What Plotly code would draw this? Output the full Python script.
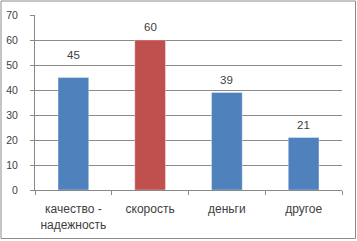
import plotly.graph_objects as go

categories = ["качество -<br>надежность", "скорость", "деньги", "другое"]
values = [45, 60, 39, 21]
colors = ["#4F81BD", "#C0504D", "#4F81BD", "#4F81BD"]
label_shift = [23, 13, 13, 13]
y_ticks = [0, 10, 20, 30, 40, 50, 60, 70]

fam = "Liberation Sans, Arial, sans-serif"
font = dict(family=fam, size=11.5, color="#404040")
yfont = dict(family=fam, size=10.5, color="#404040")
xfont = dict(family=fam, size=12, color="#404040")

fig = go.Figure()
fig.add_trace(go.Bar(
    x=categories, y=values,
    marker=dict(color=colors, line=dict(color="rgba(255,255,255,0.35)", width=1)),
    width=0.4,
    hoverinfo="skip",
))
for c, v, s in zip(categories, values, label_shift):
    fig.add_annotation(x=c, y=v, text=str(v), showarrow=False, yshift=s,
                       yanchor="middle", font=font)

L, R, T, B = 35, 15, 15, 51
W, H = 357, 241
pw, ph = W - L - R, H - T - B

def px(x):
    return (x - L) / pw

def py(y):
    return (H - B - y) / ph

fig.add_shape(type="rect", xref="paper", yref="paper",
              x0=px(1), x1=px(355.5), y0=py(238.5), y1=py(1),
              line=dict(color="#8c8c8c", width=1), layer="below")

fig.update_layout(
    width=W, height=H,
    margin=dict(l=L, r=R, t=T, b=B, pad=0, autoexpand=False),
    paper_bgcolor="white", plot_bgcolor="white",
    font=font, showlegend=False,
    xaxis=dict(tickson="boundaries", ticks="outside", ticklen=4, tickcolor="#888888",
               showline=True, linecolor="#888888", linewidth=1, showgrid=False,
               tickfont=xfont, automargin=False, ticklabelstandoff=8, tickangle=0),
    yaxis=dict(range=[0, 70], tickvals=y_ticks, ticks="outside", ticklen=4,
               tickcolor="#888888", showline=True, linecolor="#888888",
               showgrid=True, gridcolor="#8a8a8a", gridwidth=1, zeroline=False,
               tickfont=yfont, automargin=False, ticklabelstandoff=10),
)

fig.write_html("out.html", config={"displayModeBar": False, "staticPlot": True},
               post_script="document.body.style.margin='0';document.body.style.padding='0';")
